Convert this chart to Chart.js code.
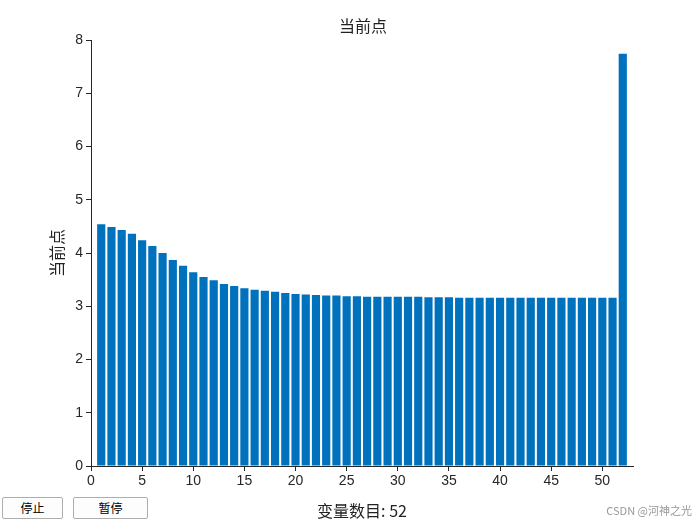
<!DOCTYPE html>
<html><head><meta charset="utf-8">
<script src="https://cdn.jsdelivr.net/npm/chart.js@4/dist/chart.umd.min.js"></script>
<style>
body{margin:0;background:#fff;width:700px;height:525px;position:relative;overflow:hidden;font-family:"Noto Sans CJK SC",sans-serif}
#wrap{position:absolute;left:0;top:0;width:700px;height:525px}
#title{position:absolute;left:263px;width:200px;top:13px;text-align:center;font-size:16px;color:#222}
.btn{position:absolute;top:497px;height:20px;border:1px solid #adadad;background:#fdfdfd;font-size:12px;text-align:center;line-height:20px;border-radius:2px}
#mark{position:absolute;right:8px;bottom:7px;color:#999;font-size:11px}
</style></head><body>
<div id="wrap"><canvas id="c"></canvas></div>
<div id="title">当前点</div>
<div class="btn" style="left:2px;width:59px">停止</div>
<div class="btn" style="left:73px;width:73px">暂停</div>
<div id="mark">CSDN @河神之光</div>
<script>
const xValues = [1,2,3,4,5,6,7,8,9,10,11,12,13,14,15,16,17,18,19,20,21,22,23,24,25,26,27,28,29,30,31,32,33,34,35,36,37,38,39,40,41,42,43,44,45,46,47,48,49,50,51,52];
const yValues = [4.54,4.49,4.43,4.36,4.24,4.13,4.00,3.87,3.76,3.64,3.55,3.49,3.42,3.38,3.34,3.31,3.29,3.27,3.25,3.23,3.22,3.21,3.20,3.20,3.19,3.19,3.18,3.18,3.18,3.18,3.18,3.18,3.17,3.17,3.17,3.16,3.16,3.16,3.16,3.16,3.16,3.16,3.16,3.16,3.16,3.16,3.16,3.16,3.16,3.16,3.16,7.74];
const xTicks = [0,5,10,15,20,25,30,35,40,45,50];

const tickFont = {family: 'Liberation Sans, Arial', size: 14};
new Chart(document.getElementById('c'), {
  type: 'bar',
  data: {
    datasets: [{
      data: xValues.map((x, i) => ({x: x, y: yValues[i]})),
      backgroundColor: '#0072bd',
      barPercentage: 0.8,
      categoryPercentage: 1
    }]
  },
  options: {
    responsive: true,
    maintainAspectRatio: false,
    animation: false,
    layout: {padding: {left: 47, right: 67, top: 40, bottom: 0}},
    plugins: {
      legend: {display: false},
      tooltip: {enabled: false},
      title: {display: false}
    },
    scales: {
      x: {
        type: 'linear',
        min: 0, max: 53,
        offset: false,
        afterBuildTicks: s => { s.ticks = xTicks.map(v => ({value: v})); },
        afterFit: s => { s.height = 59; },
        grid: {drawOnChartArea: false, offset: false, color: '#262626', tickLength: 5},
        border: {color: '#262626'},
        ticks: {color: '#262626', font: tickFont, maxRotation: 0, padding: 2},
        title: {display: true, text: '变量数目: 52', color: '#222',
          font: {family: 'Noto Sans CJK SC', size: 16}, padding: {top: 4}}
      },
      y: {
        min: 0, max: 8,
        afterFit: s => { s.width = 44; },
        grid: {drawOnChartArea: false, color: '#262626', tickLength: 5},
        border: {color: '#262626'},
        ticks: {stepSize: 1, color: '#262626', font: tickFont},
        title: {display: true, text: '当前点', color: '#222',
          font: {family: 'Noto Sans CJK SC', size: 16}, padding: 0}
      }
    }
  }
});
</script>
</body></html>
